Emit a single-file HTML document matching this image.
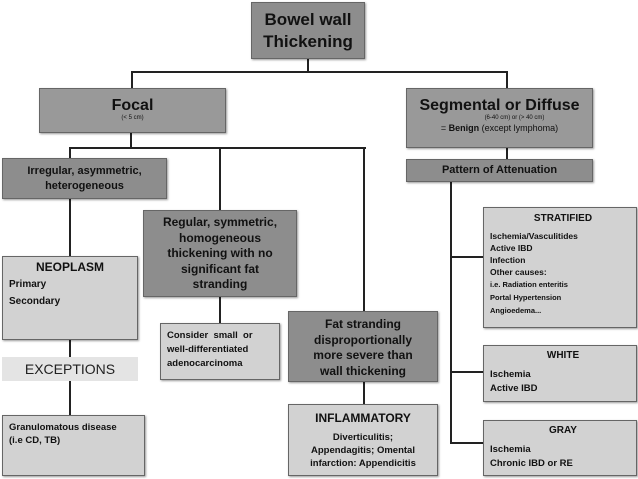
<!DOCTYPE html>
<html><head><style>
body{margin:0;width:638px;height:479px;background:#fff;position:relative;overflow:hidden;font-family:"Liberation Sans",sans-serif;}
.b{position:absolute;box-sizing:border-box;border:1px solid #666;box-shadow:1px 1px 2px rgba(0,0,0,.4);color:#111;font-weight:bold;}
.d{background:#8d8d8d;}
.m{background:#999;}
.l{background:#d2d2d2;}
.c{text-align:center;}
.ln{position:absolute;background:#222;}
.h{height:2px}.v{width:2px}
</style></head><body>
<!-- lines -->
<div class="ln v" style="left:307px;top:58px;height:15px"></div>
<div class="ln h" style="left:131px;top:71px;width:377px"></div>
<div class="ln v" style="left:131px;top:71px;height:18px"></div>
<div class="ln v" style="left:506px;top:71px;height:18px"></div>
<div class="ln v" style="left:130px;top:133px;height:16px"></div>
<div class="ln h" style="left:70px;top:147px;width:296px"></div>
<div class="ln v" style="left:69px;top:147px;height:12px"></div>
<div class="ln v" style="left:219px;top:147px;height:63px"></div>
<div class="ln v" style="left:363px;top:147px;height:164px"></div>
<div class="ln v" style="left:69px;top:198px;height:58px"></div>
<div class="ln v" style="left:69px;top:339px;height:18px"></div>
<div class="ln v" style="left:69px;top:381px;height:34px"></div>
<div class="ln v" style="left:219px;top:297px;height:26px"></div>
<div class="ln v" style="left:363px;top:382px;height:22px"></div>
<div class="ln v" style="left:506px;top:148px;height:11px"></div>
<div class="ln v" style="left:450px;top:182px;height:262px"></div>
<div class="ln h" style="left:450px;top:256px;width:33px"></div>
<div class="ln h" style="left:450px;top:371px;width:33px"></div>
<div class="ln h" style="left:450px;top:442px;width:33px"></div>

<div class="b d c" style="left:251px;top:2px;width:114px;height:57px;font-size:17px;line-height:22px;padding-top:6px">Bowel wall<br>Thickening</div>
<div class="b m c" style="left:39px;top:88px;width:187px;height:45px;padding-top:8px"><div style="font-size:16px;line-height:18px">Focal</div><div style="font-size:6px;font-weight:normal">(&lt; 5 cm)</div></div>
<div class="b m c" style="left:406px;top:88px;width:187px;height:60px;padding-top:8px"><div style="font-size:16px;line-height:18px">Segmental or Diffuse</div><div style="font-size:6px;font-weight:normal;padding-left:30px">(6-40 cm) or (&gt; 40 cm)</div><div style="font-size:9px;font-weight:normal;margin-top:2px">= <b>Benign</b> (except lymphoma)</div></div>
<div class="b d c" style="left:2px;top:158px;width:165px;height:41px;font-size:11px;line-height:15px;padding-top:5px">Irregular, asymmetric,<br>heterogeneous</div>
<div class="b d c" style="left:406px;top:159px;width:187px;height:23px;font-size:11px;line-height:21px">Pattern of Attenuation</div>
<div class="b d c" style="left:143px;top:210px;width:154px;height:87px;font-size:12px;line-height:15.5px;padding-top:4px">Regular, symmetric,<br>homogeneous<br>thickening with no<br>significant fat<br>stranding</div>
<div class="b l" style="left:2px;top:256px;width:136px;height:84px;font-size:10px;line-height:17px;padding:2px 0 0 6px"><div style="font-size:12px;text-align:center;padding-right:6px">NEOPLASM</div>Primary<br>Secondary</div>
<div style="position:absolute;left:2px;top:357px;width:136px;height:24px;background:#e4e4e4;font-size:14px;line-height:24px;text-align:center;color:#222">EXCEPTIONS</div>
<div class="b l" style="left:2px;top:415px;width:143px;height:61px;font-size:9.5px;line-height:13px;padding:5px 0 0 6px">Granulomatous disease<br>(i.e CD, TB)</div>
<div class="b l" style="left:160px;top:323px;width:120px;height:57px;font-size:9.5px;line-height:14px;padding:5px 0 0 6px">Consider &nbsp;small &nbsp;or<br>well-differentiated<br>adenocarcinoma</div>
<div class="b d c" style="left:288px;top:311px;width:150px;height:71px;font-size:12px;line-height:15.5px;padding-top:5px">Fat stranding<br>disproportionally<br>more severe than<br>wall thickening</div>
<div class="b l c" style="left:288px;top:404px;width:150px;height:72px;font-size:9.5px;line-height:13px;padding-top:4px"><div style="font-size:12px;line-height:18px;margin-bottom:4px">INFLAMMATORY</div>Diverticulitis;<br>Appendagitis; Omental<br>infarction: Appendicitis</div>
<div class="b l" style="left:483px;top:207px;width:154px;height:121px;font-size:8.5px;line-height:12px;padding:3px 0 0 6px"><div style="font-size:10px;text-align:center;line-height:16px;margin-bottom:3px">STRATIFIED</div>Ischemia/Vasculitides<br>Active IBD<br>Infection<br>Other causes:<br><span style="font-size:7.5px">i.e. Radiation enteritis<br>Portal Hypertension<br>Angioedema...</span></div>
<div class="b l" style="left:483px;top:345px;width:154px;height:57px;font-size:9.5px;line-height:14px;padding:2px 0 0 6px"><div style="font-size:10px;text-align:center;line-height:16px;margin-bottom:4px">WHITE</div>Ischemia<br>Active IBD</div>
<div class="b l" style="left:483px;top:420px;width:154px;height:56px;font-size:9.5px;line-height:14px;padding:2px 0 0 6px"><div style="font-size:10px;text-align:center;line-height:16px;margin-bottom:4px">GRAY</div>Ischemia<br>Chronic IBD or RE</div>
</body></html>
